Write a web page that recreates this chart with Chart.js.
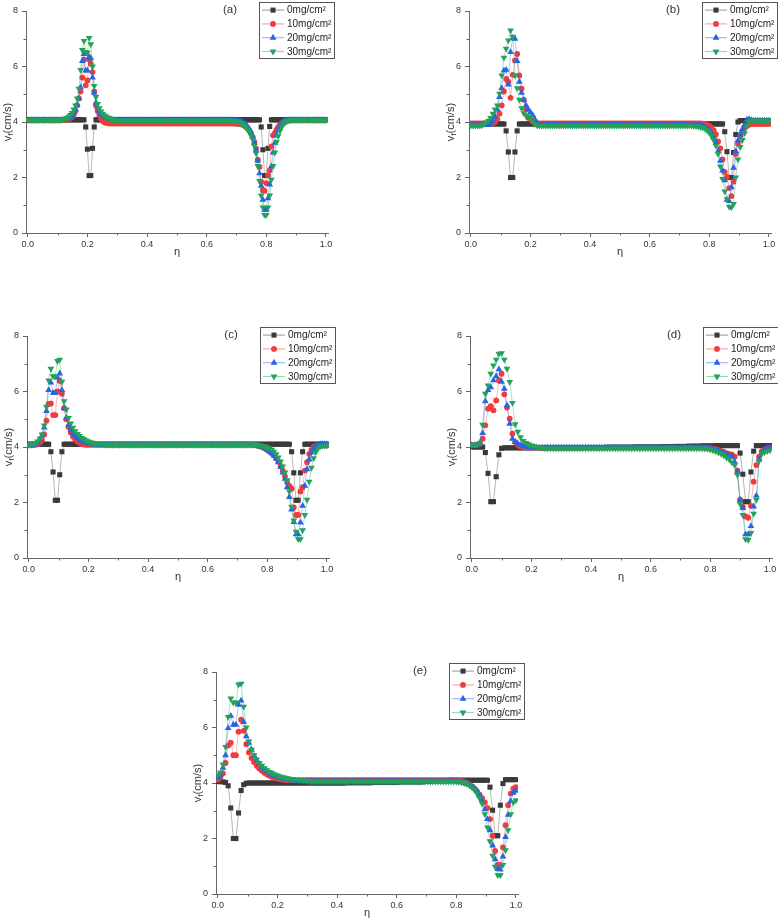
<!DOCTYPE html>
<html><head><meta charset="utf-8">
<script src="https://cdn.jsdelivr.net/npm/chart.js@4.4.1/dist/chart.umd.min.js"></script>
<style>
html,body{margin:0;padding:0;background:#fff;width:778px;height:920px;overflow:hidden;position:relative;}
canvas{position:absolute;}
</style></head><body>
<canvas id="pa"></canvas><canvas id="pb"></canvas><canvas id="pc"></canvas><canvas id="pd"></canvas><canvas id="pe"></canvas>
<script>
// ---------- labels / ticks ----------
const seriesLabels = ['0mg/cm²','10mg/cm²','20mg/cm²','30mg/cm²'];
const panelTags = ['(a)','(b)','(c)','(d)','(e)'];
const xTickValues = [0,0.2,0.4,0.6,0.8,1.0];
const xMinorTicks = [0.1,0.3,0.5,0.7,0.9];
const yTickValues = [0,2,4,6,8];
const yMinorTicks = [1,3,5,7];

// ---------- panel (a) values, evenly sampled over eta 0..1 ----------
const a0 = [
4.08,4.08,4.08,4.08,4.08,4.08,4.08,4.08,4.08,4.08,
4.08,4.08,4.08,4.08,4.08,4.08,4.08,4.08,4.08,4.08,
4.08,4.08,4.08,4.08,4.08,4.08,4.08,4.08,4.08,4.08,
4.08,4.08,4.08,4.08,3.82,3.02,2.07,2.07,3.05,3.82,
4.08,4.08,4.08,4.08,4.08,4.08,4.08,4.08,4.08,4.08,
4.08,4.08,4.08,4.08,4.08,4.08,4.08,4.08,4.08,4.08,
4.08,4.08,4.08,4.08,4.08,4.08,4.08,4.08,4.08,4.08,
4.08,4.08,4.08,4.08,4.08,4.08,4.08,4.08,4.08,4.08,
4.08,4.08,4.08,4.08,4.08,4.08,4.08,4.08,4.08,4.08,
4.08,4.08,4.08,4.08,4.08,4.08,4.08,4.08,4.08,4.08,
4.08,4.08,4.08,4.08,4.08,4.08,4.08,4.08,4.08,4.08,
4.08,4.08,4.08,4.08,4.08,4.08,4.08,4.08,4.08,4.08,
4.08,4.08,4.08,4.08,4.08,4.08,4.08,4.08,4.08,4.08,
4.08,4.08,4.08,4.08,4.08,4.08,4.08,3.82,3.0,2.07,
2.07,3.05,3.84,4.08,4.08,4.08,4.08,4.08,4.08,4.08,
4.08,4.08,4.08,4.08,4.08,4.08,4.08,4.08,4.08,4.08,
4.08,4.08,4.08,4.08,4.08,4.08,4.08,4.08,4.08,4.08,
4.08,4.08,4.08,4.08,4.08,4.08];
const a10 = [
4.07,4.07,4.07,4.07,4.07,4.07,4.07,4.07,4.07,4.07,
4.07,4.07,4.07,4.07,4.07,4.07,4.07,4.07,4.07,4.07,
4.07,4.07,4.08,4.09,4.11,4.14,4.19,4.27,4.4,4.6,
4.85,5.1,5.6,6.25,5.32,5.5,6.25,6.1,5.8,5.1,
4.6,4.4,4.25,4.12,4.04,3.99,3.97,3.96,3.95,3.95,
3.95,3.95,3.95,3.95,3.95,3.95,3.95,3.95,3.95,3.95,
3.95,3.95,3.95,3.95,3.95,3.95,3.95,3.95,3.95,3.95,
3.95,3.95,3.95,3.95,3.95,3.95,3.95,3.95,3.95,3.95,
3.95,3.95,3.95,3.95,3.95,3.95,3.95,3.95,3.95,3.95,
3.95,3.95,3.95,3.95,3.95,3.95,3.95,3.95,3.95,3.95,
3.95,3.95,3.95,3.95,3.95,3.95,3.95,3.95,3.95,3.95,
3.95,3.95,3.95,3.95,3.95,3.95,3.95,3.95,3.95,3.95,
3.95,3.95,3.94,3.94,3.93,3.92,3.9,3.87,3.83,3.77,
3.7,3.6,3.46,3.28,3.04,2.64,2.38,1.85,1.54,1.52,
1.8,2.08,2.26,3.12,3.52,3.6,3.72,3.82,3.9,3.96,
4.0,4.03,4.05,4.06,4.07,4.07,4.07,4.07,4.07,4.07,
4.07,4.07,4.07,4.07,4.07,4.07,4.07,4.07,4.07,4.07,
4.07,4.07,4.07,4.07,4.07,4.07];
const a20 = [
4.07,4.07,4.07,4.07,4.07,4.07,4.07,4.07,4.07,4.07,
4.07,4.07,4.07,4.07,4.07,4.07,4.07,4.07,4.07,4.07,
4.07,4.08,4.09,4.11,4.14,4.18,4.24,4.33,4.45,4.62,
4.85,5.25,6.2,6.45,5.85,5.85,6.35,6.3,5.6,5.05,
4.7,4.52,4.4,4.31,4.25,4.2,4.16,4.13,4.11,4.09,
4.08,4.07,4.07,4.07,4.07,4.07,4.07,4.07,4.07,4.07,
4.07,4.07,4.07,4.07,4.07,4.07,4.07,4.07,4.07,4.07,
4.07,4.07,4.07,4.07,4.07,4.07,4.07,4.07,4.07,4.07,
4.07,4.07,4.07,4.07,4.07,4.07,4.07,4.07,4.07,4.07,
4.07,4.07,4.07,4.07,4.07,4.07,4.07,4.07,4.07,4.07,
4.07,4.07,4.07,4.07,4.07,4.07,4.07,4.07,4.07,4.07,
4.07,4.07,4.07,4.07,4.07,4.07,4.07,4.07,4.07,4.07,
4.07,4.06,4.06,4.05,4.04,4.02,4.0,3.96,3.91,3.84,
3.75,3.63,3.47,3.25,2.97,2.6,2.15,1.7,1.2,0.84,
0.84,1.25,1.75,2.4,2.9,3.25,3.52,3.72,3.85,3.94,
4.0,4.04,4.06,4.07,4.07,4.07,4.07,4.07,4.07,4.07,
4.07,4.07,4.07,4.07,4.07,4.07,4.07,4.07,4.07,4.07,
4.07,4.07,4.07,4.07,4.07,4.07];
const a30 = [
4.07,4.07,4.07,4.07,4.07,4.07,4.07,4.07,4.07,4.07,
4.07,4.07,4.07,4.07,4.07,4.07,4.07,4.07,4.07,4.07,
4.09,4.1,4.12,4.15,4.19,4.25,4.33,4.45,4.6,4.85,
5.2,5.88,6.6,6.92,6.52,6.5,7.03,6.8,6.0,5.3,
4.9,4.65,4.5,4.38,4.3,4.24,4.19,4.15,4.12,4.1,
4.08,4.07,4.06,4.05,4.05,4.05,4.05,4.05,4.05,4.05,
4.05,4.05,4.05,4.05,4.05,4.05,4.05,4.05,4.05,4.05,
4.05,4.05,4.05,4.05,4.05,4.05,4.05,4.05,4.05,4.05,
4.05,4.05,4.05,4.05,4.05,4.05,4.05,4.05,4.05,4.05,
4.05,4.05,4.05,4.05,4.05,4.05,4.05,4.05,4.05,4.05,
4.05,4.05,4.05,4.05,4.05,4.05,4.05,4.05,4.05,4.05,
4.05,4.05,4.05,4.05,4.05,4.05,4.05,4.05,4.05,4.05,
4.05,4.04,4.03,4.02,4.0,3.97,3.93,3.88,3.82,3.74,
3.64,3.52,3.38,3.15,2.88,2.42,1.88,1.35,0.92,0.65,
0.65,0.92,1.35,1.92,2.42,2.9,3.28,3.5,3.68,3.82,
3.92,3.98,4.02,4.05,4.06,4.07,4.07,4.07,4.07,4.07,
4.07,4.07,4.07,4.07,4.07,4.07,4.07,4.07,4.07,4.07,
4.07,4.07,4.07,4.07,4.07,4.07];

// ---------- panel (b) ----------
const b0 = [
3.93,3.93,3.93,3.93,3.93,3.93,3.93,3.93,3.93,3.93,
3.93,3.93,3.93,3.93,3.93,3.93,3.68,2.92,2.0,2.0,
2.92,3.68,3.93,3.93,3.93,3.93,3.93,3.93,3.93,3.93,
3.93,3.93,3.93,3.93,3.93,3.93,3.93,3.93,3.93,3.93,
3.93,3.93,3.93,3.93,3.93,3.93,3.93,3.93,3.93,3.93,
3.93,3.93,3.93,3.93,3.93,3.93,3.93,3.93,3.93,3.93,
3.93,3.93,3.93,3.93,3.93,3.93,3.93,3.93,3.93,3.93,
3.93,3.93,3.93,3.93,3.93,3.93,3.93,3.93,3.93,3.93,
3.93,3.93,3.93,3.93,3.93,3.93,3.93,3.93,3.93,3.93,
3.93,3.93,3.93,3.93,3.93,3.93,3.93,3.93,3.93,3.93,
3.93,3.93,3.93,3.93,3.93,3.93,3.93,3.93,3.93,3.93,
3.93,3.93,3.93,3.93,3.93,3.65,2.93,2.0,2.0,2.9,
3.55,4.0,4.05,4.05,4.05,4.05,4.05,4.05,4.05,4.05,
4.05,4.05,4.05,4.05,4.05,4.05];
const b10 = [
3.95,3.95,3.95,3.95,3.95,3.95,3.95,3.95,3.95,3.95,
3.95,4.0,4.1,4.3,4.6,5.1,5.55,5.45,4.87,5.7,
6.22,6.45,5.68,5.2,4.8,4.45,4.15,4.1,4.02,3.97,
3.95,3.95,3.95,3.95,3.95,3.95,3.95,3.95,3.95,3.95,
3.95,3.95,3.95,3.95,3.95,3.95,3.95,3.95,3.95,3.95,
3.95,3.95,3.95,3.95,3.95,3.95,3.95,3.95,3.95,3.95,
3.95,3.95,3.95,3.95,3.95,3.95,3.95,3.95,3.95,3.95,
3.95,3.95,3.95,3.95,3.95,3.95,3.95,3.95,3.95,3.95,
3.95,3.95,3.95,3.95,3.95,3.95,3.95,3.95,3.95,3.95,
3.95,3.95,3.95,3.95,3.95,3.95,3.95,3.95,3.95,3.95,
3.95,3.95,3.95,3.95,3.95,3.94,3.92,3.9,3.86,3.8,
3.7,3.55,3.3,3.05,2.65,2.2,2.02,1.62,1.33,1.85,
2.85,3.22,3.5,3.65,3.78,3.86,3.9,3.92,3.93,3.93,
3.93,3.93,3.93,3.93,3.93,3.93];
const b20 = [
3.9,3.9,3.9,3.9,3.9,3.9,3.9,3.9,3.9,3.95,
4.05,4.2,4.45,4.9,5.22,5.85,5.88,5.35,6.52,7.02,
7.0,6.2,5.45,5.05,4.8,4.6,4.45,4.35,4.25,4.1,
3.96,3.91,3.9,3.9,3.9,3.9,3.9,3.9,3.9,3.9,
3.9,3.9,3.9,3.9,3.9,3.9,3.9,3.9,3.9,3.9,
3.9,3.9,3.9,3.9,3.9,3.9,3.9,3.9,3.9,3.9,
3.9,3.9,3.9,3.9,3.9,3.9,3.9,3.9,3.9,3.9,
3.9,3.9,3.9,3.9,3.9,3.9,3.9,3.9,3.9,3.9,
3.9,3.9,3.9,3.9,3.9,3.9,3.9,3.9,3.9,3.9,
3.9,3.9,3.9,3.9,3.9,3.9,3.9,3.9,3.9,3.9,
3.9,3.9,3.89,3.88,3.87,3.85,3.82,3.77,3.7,3.6,
3.45,3.25,2.95,2.6,2.25,1.9,1.2,1.15,1.65,2.35,
2.95,3.33,3.55,3.75,3.9,4.08,4.1,4.07,4.05,4.05,
4.05,4.05,4.05,4.05,4.05,4.05];
const b30 = [
3.87,3.87,3.87,3.87,3.87,3.88,3.92,3.98,4.05,4.15,
4.3,4.45,4.6,5.02,5.68,6.32,6.64,6.94,7.3,7.07,
5.68,5.22,4.8,4.5,4.32,4.24,4.2,4.18,4.05,3.92,
3.88,3.87,3.87,3.87,3.87,3.87,3.87,3.87,3.87,3.87,
3.87,3.87,3.87,3.87,3.87,3.87,3.87,3.87,3.87,3.87,
3.87,3.87,3.87,3.87,3.87,3.87,3.87,3.87,3.87,3.87,
3.87,3.87,3.87,3.87,3.87,3.87,3.87,3.87,3.87,3.87,
3.87,3.87,3.87,3.87,3.87,3.87,3.87,3.87,3.87,3.87,
3.87,3.87,3.87,3.87,3.87,3.87,3.87,3.87,3.87,3.87,
3.87,3.87,3.87,3.87,3.87,3.87,3.87,3.87,3.87,3.87,
3.87,3.86,3.85,3.84,3.82,3.8,3.76,3.7,3.62,3.5,
3.35,3.15,2.85,2.4,1.95,1.5,1.22,0.95,0.92,1.05,
2.0,2.65,3.1,3.35,3.6,3.85,4.0,4.05,4.05,4.05,
4.05,4.05,4.05,4.05,4.05,4.05];

// ---------- panel (c) ----------
const c0 = [
4.1,4.1,4.1,4.1,4.1,4.1,4.1,4.1,4.1,4.1,
3.83,3.1,2.08,2.08,3.0,3.83,4.1,4.1,4.1,4.1,
4.1,4.1,4.1,4.1,4.1,4.1,4.1,4.1,4.1,4.1,
4.1,4.1,4.1,4.1,4.1,4.1,4.1,4.1,4.1,4.1,
4.1,4.1,4.1,4.1,4.1,4.1,4.1,4.1,4.1,4.1,
4.1,4.1,4.1,4.1,4.1,4.1,4.1,4.1,4.1,4.1,
4.1,4.1,4.1,4.1,4.1,4.1,4.1,4.1,4.1,4.1,
4.1,4.1,4.1,4.1,4.1,4.1,4.1,4.1,4.1,4.1,
4.1,4.1,4.1,4.1,4.1,4.1,4.1,4.1,4.1,4.1,
4.1,4.1,4.1,4.1,4.1,4.1,4.1,4.1,4.1,4.1,
4.1,4.1,4.1,4.1,4.1,4.1,4.1,4.1,4.1,4.1,
4.1,4.1,4.1,4.1,4.1,4.1,4.1,4.1,4.1,3.83,
3.07,2.08,2.08,3.07,3.83,4.1,4.1,4.1,4.1,4.1,
4.1,4.1,4.1,4.1,4.1,4.1];
const c10 = [
4.07,4.07,4.07,4.08,4.1,4.15,4.25,4.45,4.95,5.55,
5.57,5.15,5.15,6.0,6.38,5.92,5.4,5.0,4.72,4.52,
4.38,4.28,4.2,4.15,4.11,4.09,4.08,4.08,4.08,4.08,
4.08,4.08,4.08,4.08,4.08,4.08,4.08,4.08,4.08,4.08,
4.08,4.08,4.08,4.08,4.08,4.08,4.08,4.08,4.08,4.08,
4.08,4.08,4.08,4.08,4.08,4.08,4.08,4.08,4.08,4.08,
4.08,4.08,4.08,4.08,4.08,4.08,4.08,4.08,4.08,4.08,
4.08,4.08,4.08,4.08,4.08,4.08,4.08,4.08,4.08,4.08,
4.08,4.08,4.08,4.08,4.08,4.08,4.08,4.08,4.08,4.08,
4.08,4.08,4.08,4.08,4.08,4.08,4.08,4.08,4.08,4.08,
4.08,4.08,4.07,4.06,4.04,4.02,3.99,3.95,3.9,3.85,
3.78,3.7,3.6,3.48,3.33,3.15,2.95,2.72,2.6,2.5,
1.82,1.55,1.55,2.4,2.55,3.15,3.45,3.75,3.9,4.0,
4.05,4.05,4.05,4.05,4.05,4.05];
const c20 = [
4.07,4.07,4.08,4.1,4.15,4.25,4.42,4.7,5.3,6.05,
6.32,5.95,5.95,6.5,6.65,6.05,5.4,5.05,4.8,4.62,
4.5,4.4,4.33,4.27,4.22,4.18,4.15,4.13,4.11,4.1,
4.09,4.08,4.08,4.08,4.08,4.08,4.08,4.08,4.08,4.08,
4.08,4.08,4.08,4.08,4.08,4.08,4.08,4.08,4.08,4.08,
4.08,4.08,4.08,4.08,4.08,4.08,4.08,4.08,4.08,4.08,
4.08,4.08,4.08,4.08,4.08,4.08,4.08,4.08,4.08,4.08,
4.08,4.08,4.08,4.08,4.08,4.08,4.08,4.08,4.08,4.08,
4.08,4.08,4.08,4.08,4.08,4.08,4.08,4.08,4.08,4.08,
4.08,4.08,4.08,4.08,4.08,4.08,4.08,4.08,4.08,4.08,
4.08,4.08,4.07,4.06,4.04,4.02,3.99,3.95,3.9,3.84,
3.77,3.68,3.58,3.45,3.28,3.08,2.85,2.55,2.2,1.75,
1.3,0.85,0.85,1.28,1.88,2.6,3.2,3.55,3.8,3.95,
4.03,4.08,4.1,4.1,4.1,4.1];
const c30 = [
4.07,4.08,4.1,4.14,4.2,4.3,4.45,4.78,5.45,6.4,
6.82,6.55,6.55,7.1,7.15,6.35,5.65,5.35,5.05,4.85,
4.7,4.57,4.47,4.4,4.33,4.28,4.24,4.2,4.17,4.15,
4.13,4.12,4.11,4.1,4.09,4.08,4.08,4.08,4.08,4.08,
4.08,4.08,4.08,4.08,4.08,4.08,4.08,4.08,4.08,4.08,
4.08,4.08,4.08,4.08,4.08,4.08,4.08,4.08,4.08,4.08,
4.08,4.08,4.08,4.08,4.08,4.08,4.08,4.08,4.08,4.08,
4.08,4.08,4.08,4.08,4.08,4.08,4.08,4.08,4.08,4.08,
4.08,4.08,4.08,4.08,4.08,4.08,4.08,4.08,4.08,4.08,
4.08,4.08,4.08,4.08,4.08,4.08,4.08,4.08,4.08,4.08,
4.08,4.08,4.08,4.08,4.07,4.06,4.04,4.02,3.99,3.95,
3.9,3.83,3.74,3.62,3.48,3.3,3.08,2.8,2.4,1.85,
1.35,0.95,0.68,0.68,1.0,1.55,2.1,2.75,3.25,3.6,
3.82,3.95,4.02,4.05,4.06,4.06];

// ---------- panel (d) ----------
const d0 = [
4.0,4.0,4.0,4.0,4.0,3.8,3.05,2.03,2.03,2.93,
3.72,3.95,3.97,3.97,3.97,3.97,3.97,3.97,3.97,3.97,
3.97,3.97,3.97,3.97,3.97,3.97,3.97,3.97,3.97,3.97,
3.97,3.97,3.97,3.97,3.97,3.97,3.97,3.97,3.97,3.97,
3.98,3.98,3.98,3.98,3.98,3.98,3.98,3.98,3.98,3.98,
3.99,3.99,3.99,3.99,3.99,3.99,3.99,3.99,3.99,3.99,
4.0,4.0,4.0,4.0,4.0,4.0,4.0,4.0,4.0,4.0,
4.01,4.01,4.01,4.01,4.01,4.02,4.02,4.02,4.02,4.02,
4.03,4.03,4.03,4.03,4.03,4.04,4.04,4.04,4.04,4.04,
4.05,4.05,4.05,4.05,4.05,4.05,4.05,4.05,4.05,3.78,
3.02,2.03,2.03,3.1,3.85,4.05,4.05,4.05,4.05,4.05,
4.05];
const d10 = [
4.07,4.07,4.08,4.12,4.3,4.78,5.38,5.47,5.32,5.68,
6.4,6.64,5.9,5.42,5.02,4.48,4.18,4.08,4.02,4.0,
3.99,3.98,3.98,3.98,3.98,3.98,3.98,3.98,3.98,3.98,
3.98,3.98,3.98,3.98,3.98,3.98,3.98,3.98,3.98,3.98,
3.98,3.98,3.98,3.98,3.98,3.98,3.98,3.98,3.98,3.98,
3.98,3.98,3.98,3.98,3.98,3.98,3.98,3.98,3.98,3.98,
3.98,3.98,3.98,3.98,3.98,3.98,3.98,3.98,3.98,3.98,
3.98,3.98,3.98,3.98,3.98,3.98,3.98,3.98,3.98,3.98,
3.98,3.98,3.98,3.98,3.98,3.98,3.97,3.96,3.96,3.94,
3.92,3.89,3.86,3.82,3.78,3.75,3.72,3.65,3.15,2.1,
1.85,1.5,1.45,1.88,2.75,3.35,3.65,3.85,3.9,3.95,
3.97];
const d20 = [
4.07,4.07,4.08,4.15,4.5,5.65,6.05,6.15,6.4,6.55,
6.8,6.35,6.1,5.5,4.84,4.3,4.18,4.12,4.08,4.05,
4.02,4.0,3.98,3.98,3.98,3.98,3.98,3.98,3.98,3.98,
3.98,3.98,3.98,3.98,3.98,3.98,3.98,3.98,3.98,3.98,
3.98,3.98,3.98,3.98,3.98,3.98,3.98,3.98,3.98,3.98,
3.98,3.98,3.98,3.98,3.98,3.98,3.98,3.98,3.98,3.98,
3.98,3.98,3.98,3.98,3.98,3.98,3.98,3.98,3.98,3.98,
3.98,3.98,3.98,3.98,3.98,3.98,3.98,3.98,3.98,3.98,
3.98,3.98,3.98,3.98,3.98,3.98,3.97,3.96,3.94,3.92,
3.89,3.86,3.82,3.78,3.73,3.68,3.65,3.45,3.1,2.1,
1.8,0.85,0.85,1.15,1.85,2.25,3.55,3.8,3.9,3.95,
3.97];
const d30 = [
4.07,4.07,4.1,4.15,4.8,5.92,6.22,6.64,6.94,7.15,
7.36,7.38,7.15,6.82,6.34,5.59,4.82,4.55,4.35,4.22,
4.15,4.1,4.06,4.03,4.0,3.98,3.96,3.95,3.95,3.95,
3.95,3.95,3.95,3.95,3.95,3.95,3.95,3.95,3.95,3.95,
3.95,3.95,3.95,3.95,3.95,3.95,3.95,3.95,3.95,3.95,
3.95,3.95,3.95,3.95,3.95,3.95,3.95,3.95,3.95,3.95,
3.95,3.95,3.95,3.95,3.95,3.95,3.95,3.95,3.95,3.95,
3.95,3.95,3.95,3.95,3.95,3.95,3.95,3.95,3.95,3.95,
3.95,3.95,3.95,3.95,3.95,3.95,3.94,3.93,3.91,3.88,
3.84,3.8,3.75,3.7,3.62,3.55,3.45,3.35,3.0,1.95,
1.55,0.68,0.65,0.9,1.6,2.1,3.5,3.75,3.82,3.85,
3.88];

// ---------- panel (e) ----------
const e0 = [
4.05,4.05,4.04,4.02,3.9,3.1,2.0,2.0,2.92,3.73,
3.94,3.99,4.0,4.0,4.0,4.0,4.0,4.0,4.0,4.0,
4.0,4.0,4.0,4.0,4.0,4.0,4.0,4.0,4.0,4.0,
4.0,4.0,4.0,4.0,4.0,4.0,4.0,4.0,4.0,4.0,
4.0,4.0,4.0,4.0,4.0,4.0,4.0,4.0,4.0,4.0,
4.01,4.01,4.01,4.01,4.01,4.01,4.01,4.01,4.01,4.01,
4.02,4.02,4.02,4.02,4.02,4.02,4.02,4.02,4.02,4.02,
4.04,4.04,4.04,4.04,4.04,4.04,4.04,4.04,4.04,4.04,
4.06,4.06,4.06,4.06,4.06,4.08,4.08,4.08,4.08,4.08,
4.1,4.1,4.1,4.1,4.1,4.1,4.1,4.1,4.1,4.1,
4.1,4.1,4.1,4.1,4.1,3.85,3.02,2.1,2.1,3.2,
3.98,4.12,4.12,4.12,4.12,4.12];
const e10 = [
4.12,4.2,4.35,4.72,5.35,5.45,5.0,5.0,5.85,6.28,
5.88,5.4,5.1,4.9,4.75,4.62,4.52,4.44,4.37,4.31,
4.26,4.22,4.19,4.16,4.14,4.12,4.11,4.1,4.1,4.1,
4.1,4.1,4.1,4.1,4.1,4.1,4.1,4.1,4.1,4.1,
4.1,4.1,4.1,4.1,4.1,4.1,4.1,4.1,4.1,4.1,
4.1,4.1,4.1,4.1,4.1,4.1,4.1,4.1,4.1,4.1,
4.1,4.1,4.1,4.1,4.1,4.1,4.1,4.1,4.1,4.1,
4.1,4.1,4.1,4.1,4.1,4.1,4.1,4.1,4.1,4.1,
4.1,4.1,4.1,4.1,4.1,4.1,4.1,4.1,4.1,4.1,
4.1,4.1,4.1,4.09,4.07,4.04,4.0,3.95,3.88,3.8,
3.7,3.58,3.45,3.3,3.1,2.7,2.1,1.55,1.05,1.05,
1.68,2.48,3.2,3.62,3.8,3.85];
const e20 = [
4.2,4.3,4.55,5.0,5.98,6.42,6.1,6.1,6.82,6.97,
6.2,5.68,5.45,5.2,4.98,4.82,4.68,4.57,4.48,4.41,
4.35,4.3,4.26,4.22,4.19,4.16,4.14,4.12,4.1,4.09,
4.08,4.07,4.07,4.07,4.07,4.07,4.07,4.07,4.07,4.07,
4.07,4.07,4.07,4.07,4.07,4.07,4.07,4.07,4.07,4.07,
4.07,4.07,4.07,4.07,4.07,4.07,4.07,4.07,4.07,4.07,
4.07,4.07,4.07,4.07,4.07,4.07,4.07,4.07,4.07,4.07,
4.07,4.07,4.07,4.07,4.07,4.07,4.07,4.07,4.07,4.07,
4.07,4.07,4.07,4.07,4.07,4.07,4.07,4.07,4.07,4.07,
4.07,4.07,4.06,4.05,4.03,4.0,3.97,3.93,3.88,3.82,
3.72,3.55,3.35,3.05,2.7,2.3,1.75,1.25,0.9,0.88,
1.35,2.05,2.85,3.35,3.65,3.72];
const e30 = [
4.3,4.38,4.67,5.3,6.38,7.05,6.9,6.9,7.55,7.58,
6.75,6.0,5.5,5.2,5.0,4.85,4.72,4.62,4.53,4.46,
4.4,4.35,4.31,4.27,4.24,4.21,4.19,4.17,4.15,4.13,
4.12,4.11,4.1,4.09,4.08,4.07,4.06,4.05,4.05,4.05,
4.05,4.05,4.05,4.05,4.05,4.05,4.05,4.05,4.05,4.05,
4.05,4.05,4.05,4.05,4.05,4.05,4.05,4.05,4.05,4.05,
4.05,4.05,4.05,4.05,4.05,4.05,4.05,4.05,4.05,4.05,
4.05,4.05,4.05,4.05,4.05,4.05,4.05,4.05,4.05,4.05,
4.05,4.05,4.05,4.05,4.05,4.05,4.05,4.05,4.05,4.05,
4.05,4.05,4.04,4.03,4.02,4.0,3.97,3.92,3.85,3.75,
3.62,3.45,3.25,2.88,2.4,1.9,1.38,0.98,0.68,0.68,
1.05,1.58,2.3,2.88,3.3,3.38];

// ---------- styling ----------
const FONT = '"Liberation Sans", Arial, Helvetica, sans-serif';
const AXIS = '#666666';
const TXT = '#333333';
const styles = [
  {marker:'#3a3a3a', line:'rgba(90,90,90,0.55)',  shape:'rect',     r:3.6, rot:0},
  {marker:'#f23b3b', line:'rgba(242,59,59,0.45)', shape:'circle',   r:2.9, rot:0},
  {marker:'#2563e8', line:'rgba(37,99,232,0.45)', shape:'triangle', r:3.9, rot:0},
  {marker:'#22a25a', line:'rgba(34,162,90,0.45)', shape:'triangle', r:3.9, rot:180}
];

function drawMarker(ctx, st, x, y) {
  ctx.fillStyle = st.marker;
  ctx.beginPath();
  const r = st.r;
  if (st.shape === 'rect') { const s = r * Math.SQRT1_2; ctx.rect(x - s, y - s, 2 * s, 2 * s); }
  else if (st.shape === 'circle') { ctx.arc(x, y, r, 0, Math.PI * 2); }
  else {
    const sg = st.rot ? 1 : -1;
    ctx.moveTo(x, y + sg * r);
    ctx.lineTo(x + r * 0.866, y - sg * r * 0.5);
    ctx.lineTo(x - r * 0.866, y - sg * r * 0.5);
    ctx.closePath();
  }
  ctx.fill();
}

const decor = {
  id: 'decor',
  afterDraw(chart) {
    const ctx = chart.ctx, ca = chart.chartArea;
    const xs = chart.scales.x, ys = chart.scales.y;
    const tag = chart.options.plugins.decor.tag;
    ctx.save();
    // minor ticks
    ctx.strokeStyle = AXIS; ctx.lineWidth = 1;
    ctx.beginPath();
    for (const v of yMinorTicks) { const y = Math.round(ys.getPixelForValue(v)) + 0.5; ctx.moveTo(ca.left, y); ctx.lineTo(ca.left - 2.5, y); }
    for (const v of xMinorTicks) { const x = Math.round(xs.getPixelForValue(v)) + 0.5; ctx.moveTo(x, ca.bottom); ctx.lineTo(x, ca.bottom + 2.5); }
    ctx.stroke();
    // x title
    ctx.fillStyle = TXT;
    ctx.font = '11px ' + FONT;
    ctx.textAlign = 'center'; ctx.textBaseline = 'middle';
    ctx.fillText('η', (ca.left + ca.right) / 2, ca.bottom + 18.5);
    // panel tag
    ctx.font = '11.5px ' + FONT;
    ctx.fillText(tag, ca.right - 98, ca.top - 1);
    // y title  v_f(cm/s)
    ctx.save();
    ctx.translate(ca.left - 19.5, (ca.top + ca.bottom) / 2);
    ctx.rotate(-Math.PI / 2);
    ctx.textAlign = 'left'; ctx.textBaseline = 'alphabetic';
    ctx.font = '11px ' + FONT; const w1 = ctx.measureText('v').width, w3 = ctx.measureText('(cm/s)').width;
    ctx.font = '8px ' + FONT; const w2 = ctx.measureText('f').width;
    let sx = -(w1 + w2 + w3) / 2;
    ctx.font = '11px ' + FONT; ctx.fillText('v', sx, 4);
    ctx.font = '8px ' + FONT; ctx.fillText('f', sx + w1, 6.5);
    ctx.font = '11px ' + FONT; ctx.fillText('(cm/s)', sx + w1 + w2, 4);
    ctx.restore();
    // legend box
    const bx = Math.round(ca.right - 69) + 0.5, by = Math.round(ca.top - 9.5) + 0.5, bw = 75, bh = 56;
    ctx.fillStyle = '#fff'; ctx.fillRect(bx, by, bw, bh);
    ctx.strokeStyle = '#555'; ctx.lineWidth = 1; ctx.strokeRect(bx, by, bw, bh);
    ctx.font = '10px ' + FONT; ctx.textAlign = 'left'; ctx.textBaseline = 'middle';
    chart.data.datasets.forEach((ds, k) => {
      const st = styles[k];
      const cy = by + 7.6 + k * 13.8;
      ctx.strokeStyle = st.line; ctx.lineWidth = 1.2;
      ctx.beginPath(); ctx.moveTo(bx + 2.5, cy); ctx.lineTo(bx + 24.5, cy); ctx.stroke();
      drawMarker(ctx, st, bx + 13.5, cy);
      ctx.fillStyle = '#222';
      ctx.fillText(ds.label, bx + 27.5, cy + 0.5);
    });
    ctx.restore();
  }
};

const panels = [
  {id:'pa', plotL:26,  plotT:11,  series:[a0,a10,a20,a30], tag:panelTags[0]},
  {id:'pb', plotL:469, plotT:11,  series:[b0,b10,b20,b30], tag:panelTags[1]},
  {id:'pc', plotL:27,  plotT:336, series:[c0,c10,c20,c30], tag:panelTags[2]},
  {id:'pd', plotL:470, plotT:336, series:[d0,d10,d20,d30], tag:panelTags[3]},
  {id:'pe', plotL:216, plotT:672, series:[e0,e10,e20,e30], tag:panelTags[4]}
];
const PW = 302, PH = 222, YW = 30, XH = 30, PADT = 12, PADR = 10;
const X_MIN = -0.006, X_MAX = 1.007;

panels.forEach(p => {
  const cv = document.getElementById(p.id);
  const W = YW + PW + PADR, H = PADT + PH + XH;
  cv.width = W; cv.height = H;
  cv.style.width = W + 'px'; cv.style.height = H + 'px';
  cv.style.left = (p.plotL - YW) + 'px'; cv.style.top = (p.plotT - PADT) + 'px';
  const datasets = p.series.map((vals, k) => {
    const st = styles[k];
    const n = vals.length - 1;
    return {
      label: seriesLabels[k],
      data: vals.map((v, i) => ({x: i / n, y: v})),
      borderColor: st.line, borderWidth: 0.8,
      backgroundColor: st.marker,
      pointBackgroundColor: st.marker, pointBorderColor: st.marker, pointBorderWidth: 0,
      pointStyle: st.shape, pointRadius: st.r, pointRotation: st.rot,
      pointHoverRadius: st.r, tension: 0, order: 3 - k
    };
  });
  new Chart(cv, {
    type: 'line',
    data: {datasets},
    options: {
      responsive: false, animation: false, devicePixelRatio: 1,
      layout: {padding: {left: 0, top: PADT, right: PADR, bottom: 0}},
      events: [],
      scales: {
        x: {
          type: 'linear', min: X_MIN, max: X_MAX,
          afterFit: s => { s.height = XH; },
          afterBuildTicks: s => { s.ticks = xTickValues.map(v => ({value: v})); },
          ticks: {callback: v => Number(v).toFixed(1), font: {family: FONT, size: 9}, color: TXT, padding: 2, autoSkip: false, maxRotation: 0},
          grid: {drawOnChartArea: false, drawTicks: true, tickLength: 4, tickColor: AXIS},
          border: {display: true, color: AXIS, width: 1}
        },
        y: {
          type: 'linear', min: 0, max: 8,
          afterFit: s => { s.width = YW; },
          afterBuildTicks: s => { s.ticks = yTickValues.map(v => ({value: v})); },
          ticks: {font: {family: FONT, size: 9}, color: TXT, padding: 4},
          grid: {drawOnChartArea: false, drawTicks: true, tickLength: 4, tickColor: AXIS},
          border: {display: true, color: AXIS, width: 1}
        }
      },
      plugins: {legend: {display: false}, tooltip: {enabled: false}, decor: {tag: p.tag}}
    },
    plugins: [decor]
  });
});
</script>
</body></html>
